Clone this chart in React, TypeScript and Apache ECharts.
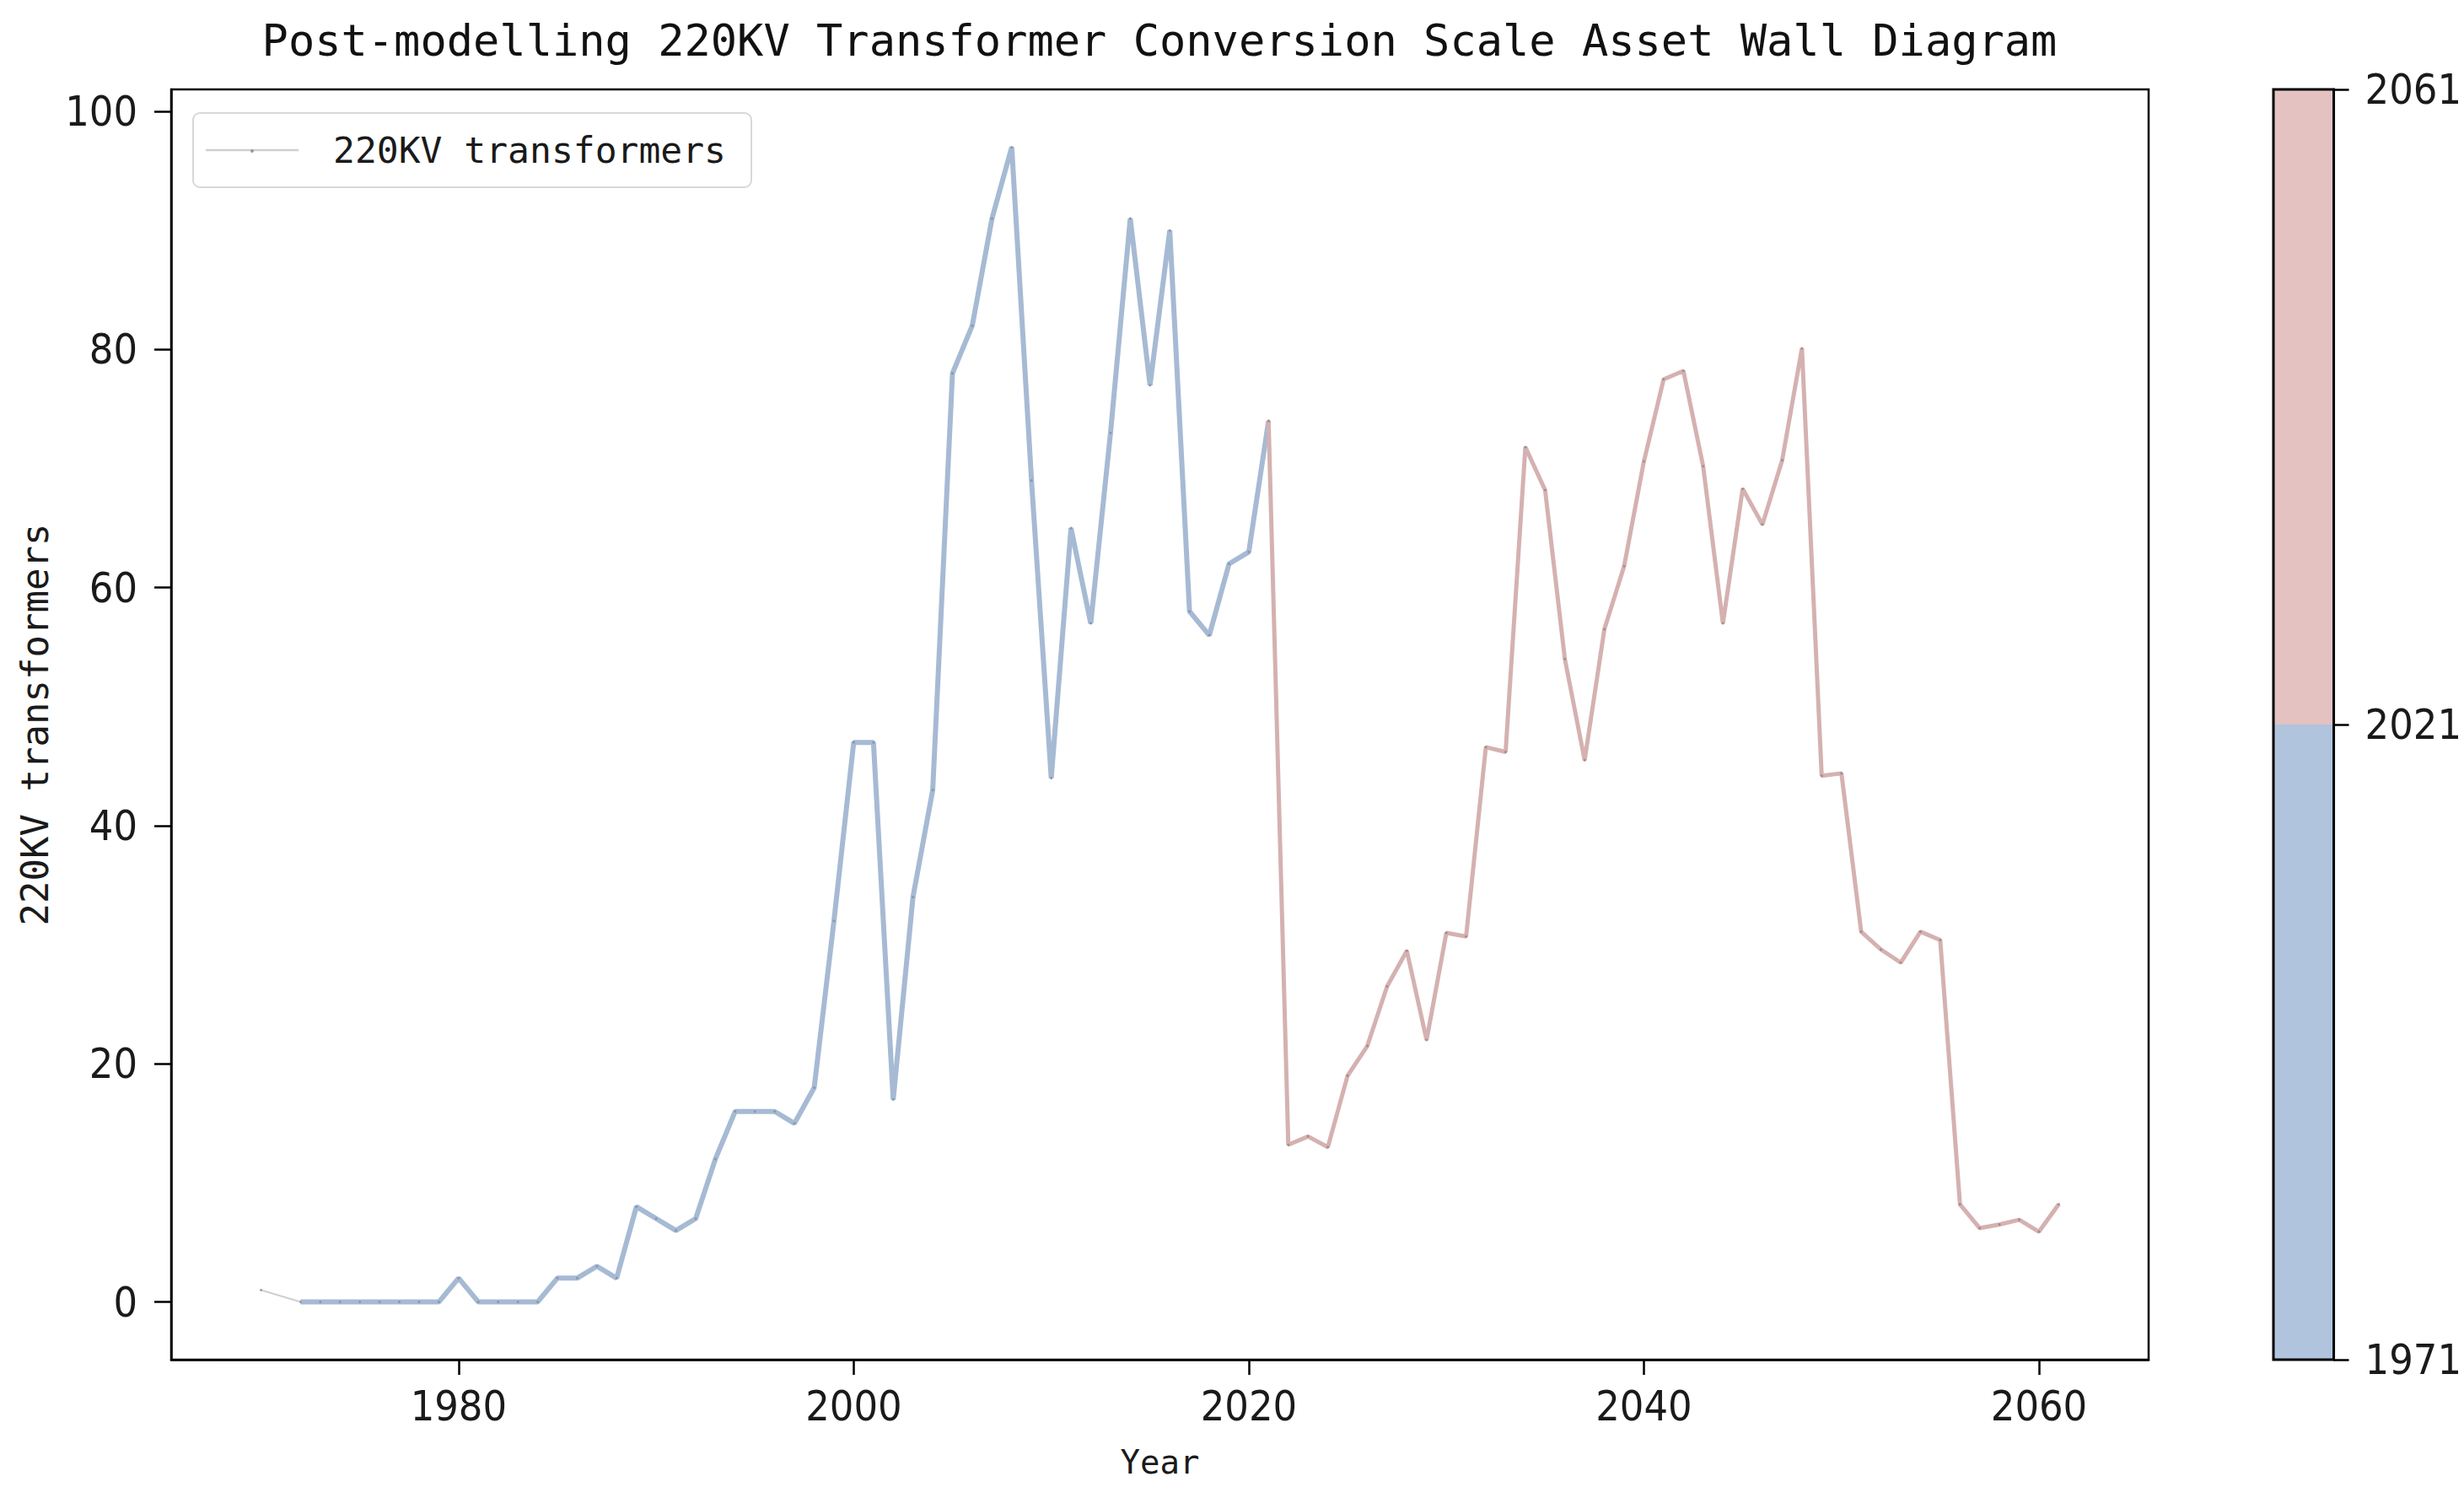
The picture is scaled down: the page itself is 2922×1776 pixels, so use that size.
import React, { useEffect, useRef } from "react";
import * as echarts from "echarts";

const TITLE = "Post-modelling 220KV Transformer Conversion Scale Asset Wall Diagram";
const SERIES_NAME = "220KV transformers";
const X_NAME = "Year";
const Y_NAME = "220KV transformers";

const years = [
  1970, 1972, 1973, 1974, 1975, 1976, 1977, 1978, 1979, 1980,
  1981, 1982, 1983, 1984, 1985, 1986, 1987, 1988, 1989, 1990,
  1991, 1992, 1993, 1994, 1995, 1996, 1997, 1998, 1999, 2000,
  2001, 2002, 2003, 2004, 2005, 2006, 2007, 2008, 2009, 2010,
  2011, 2012, 2013, 2014, 2015, 2016, 2017, 2018, 2019, 2020,
  2021, 2022, 2023, 2024, 2025, 2026, 2027, 2028, 2029, 2030,
  2031, 2032, 2033, 2034, 2035, 2036, 2037, 2038, 2039, 2040,
  2041, 2042, 2043, 2044, 2045, 2046, 2047, 2048, 2049, 2050,
  2051, 2052, 2053, 2054, 2055, 2056, 2057, 2058, 2059, 2060,
  2061,
];

const transformers = [
  1, 0, 0, 0, 0, 0, 0, 0, 0, 2,
  0, 0, 0, 0, 2, 2, 3, 2, 8, 7,
  6, 7, 12, 16, 16, 16, 15, 18, 32, 47,
  47, 17, 34, 43, 78, 82, 91, 97, 69, 44,
  65, 57, 73, 91, 77, 90, 58, 56, 62, 63,
  74, 13.2, 13.9, 13, 19, 21.5, 26.5, 29.5, 22, 31,
  30.7, 46.6, 46.2, 71.8, 68.2, 54, 45.5, 56.5, 61.8, 70.6,
  77.5, 78.2, 70.2, 57, 68.3, 65.3, 70.7, 80.1, 44.2, 44.4,
  31.1, 29.6, 28.5, 31.1, 30.4, 8.2, 6.2, 6.5, 6.9, 5.9,
  8.2,
];

// colour boundaries of the colour bar (years)
const colorbarTicks = [1971, 2021, 2061];
const xTicks = [1980, 2000, 2020, 2040, 2060];
const yTicks = [0, 20, 40, 60, 80, 100];

const MONO = "'DejaVu Sans Mono', 'Liberation Mono', monospace";
const NARROW = "'Liberation Sans Narrow', 'DejaVu Sans Condensed', 'Liberation Sans', sans-serif";

export default function App() {
  const ref = useRef<HTMLDivElement>(null);

  useEffect(() => {
    document.body.style.margin = "0";
    if (!ref.current) return;
    const chart = echarts.init(ref.current, undefined, { renderer: "svg" });

    const pairs = years.map((y, i) => [y, transformers[i]]);
    const grayData = pairs.filter((p) => p[0] <= 1972);
    const blueData = pairs.filter((p) => p[0] >= 1972 && p[0] <= colorbarTicks[1]);
    const pinkData = pairs.filter((p) => p[0] >= colorbarTicks[1]);

    const blue = "#a6bad3";
    const pink = "#d5b1b1";

    const axisLineStyle = { color: "#000", width: 2.5 };

    chart.setOption({
      animation: false,
      backgroundColor: "#fff",
      title: {
        text: TITLE,
        left: 1375,
        top: 22,
        padding: 0,
        textAlign: "center",
        textStyle: { fontFamily: MONO, fontSize: 52, fontWeight: "normal", color: "#111" },
      },
      grid: [
        {
          left: 203,
          top: 106,
          width: 2345,
          height: 1506,
          show: true,
          borderColor: "#000",
          borderWidth: 2.5,
          backgroundColor: "#fff",
        },
        {
          left: 2696,
          top: 106,
          width: 72,
          height: 1506,
          show: true,
          borderColor: "#000",
          borderWidth: 3,
          backgroundColor: "rgba(0,0,0,0)",
          z: 10,
        },
      ],
      xAxis: [
        {
          gridIndex: 0,
          type: "value",
          min: 1965.45,
          max: 2065.55,
          axisLine: { show: true, onZero: false, lineStyle: axisLineStyle },
          axisTick: { show: true, length: 18, inside: false, customValues: xTicks, lineStyle: axisLineStyle },
          axisLabel: {
            customValues: xTicks,
            margin: 30,
            fontSize: 50,
            fontFamily: NARROW,
            color: "#1a1a1a",
            formatter: (v: number) => String(v),
          },
          splitLine: { show: false },
          name: X_NAME,
          nameLocation: "middle",
          nameGap: 102,
          nameTextStyle: { fontFamily: MONO, fontSize: 39, color: "#1a1a1a" },
        },
        {
          gridIndex: 1,
          type: "category",
          data: [""],
          show: false,
        },
      ],
      yAxis: [
        {
          gridIndex: 0,
          type: "value",
          min: -4.85,
          max: 101.85,
          axisLine: { show: true, onZero: false, lineStyle: axisLineStyle },
          axisTick: { show: true, length: 20, inside: false, customValues: yTicks, lineStyle: axisLineStyle },
          axisLabel: {
            customValues: yTicks,
            margin: 40,
            fontSize: 50,
            fontFamily: NARROW,
            color: "#1a1a1a",
            formatter: (v: number) => String(v),
          },
          splitLine: { show: false },
          name: Y_NAME,
          nameLocation: "middle",
          nameGap: 140,
          nameRotate: 90,
          nameTextStyle: { fontFamily: MONO, fontSize: 44, color: "#1a1a1a" },
        },
        {
          gridIndex: 1,
          type: "value",
          position: "right",
          min: 0,
          max: colorbarTicks.length - 1,
          interval: 1,
          axisLine: { show: true, onZero: false, lineStyle: axisLineStyle },
          axisTick: { show: true, length: 18, inside: false, lineStyle: axisLineStyle },
          axisLabel: {
            margin: 37,
            fontSize: 50,
            fontFamily: NARROW,
            color: "#1a1a1a",
            formatter: (v: number) => String(colorbarTicks[Math.round(v)]),
          },
          splitLine: { show: false },
        },
      ],
      graphic: [
        {
          type: "rect",
          shape: { x: 229, y: 134, width: 662, height: 88, r: 8 },
          style: { fill: "rgba(255,255,255,0.8)", stroke: "#d8d8d8", lineWidth: 2 },
          z: 100,
        },
        {
          type: "line",
          shape: { x1: 244, y1: 178, x2: 354, y2: 178 },
          style: { stroke: "#cfcfcf", lineWidth: 2.5 },
          z: 101,
        },
        {
          type: "circle",
          shape: { cx: 299, cy: 179, r: 2 },
          style: { fill: "#9a9a9a" },
          z: 101,
        },
        {
          type: "text",
          x: 395,
          y: 178,
          style: {
            text: SERIES_NAME,
            font: `43px ${MONO}`,
            fill: "#1a1a1a",
            verticalAlign: "middle",
            textAlign: "left",
          },
          z: 101,
        },
      ],
      series: [
        {
          name: SERIES_NAME,
          type: "line",
          xAxisIndex: 0,
          yAxisIndex: 0,
          data: grayData,
          showSymbol: true,
          symbol: "circle",
          symbolSize: 3,
          itemStyle: { color: "#a0a0a0" },
          lineStyle: { color: "#d0d0d0", width: 2 },
          z: 3,
        },
        {
          name: "1971-2021",
          type: "line",
          xAxisIndex: 0,
          yAxisIndex: 0,
          data: blueData,
          showSymbol: true,
          symbol: "circle",
          symbolSize: 3,
          itemStyle: { color: "#8797ad" },
          lineStyle: { color: blue, width: 6 },
          z: 2,
        },
        {
          name: "2021-2061",
          type: "line",
          xAxisIndex: 0,
          yAxisIndex: 0,
          data: pinkData,
          showSymbol: true,
          symbol: "circle",
          symbolSize: 3,
          itemStyle: { color: "#a88a8a" },
          lineStyle: { color: pink, width: 5 },
          z: 2,
        },
        {
          name: "cb-low",
          type: "bar",
          xAxisIndex: 1,
          yAxisIndex: 1,
          stack: "cb",
          barWidth: "100%",
          data: [1],
          itemStyle: { color: "#b0c4de" },
          silent: true,
        },
        {
          name: "cb-high",
          type: "bar",
          xAxisIndex: 1,
          yAxisIndex: 1,
          stack: "cb",
          barWidth: "100%",
          data: [1],
          itemStyle: { color: "#e4c2c2" },
          silent: true,
        },
      ],
    });

    return () => chart.dispose();
  }, []);

  return <div ref={ref} style={{ width: 2922, height: 1776 }} />;
}
